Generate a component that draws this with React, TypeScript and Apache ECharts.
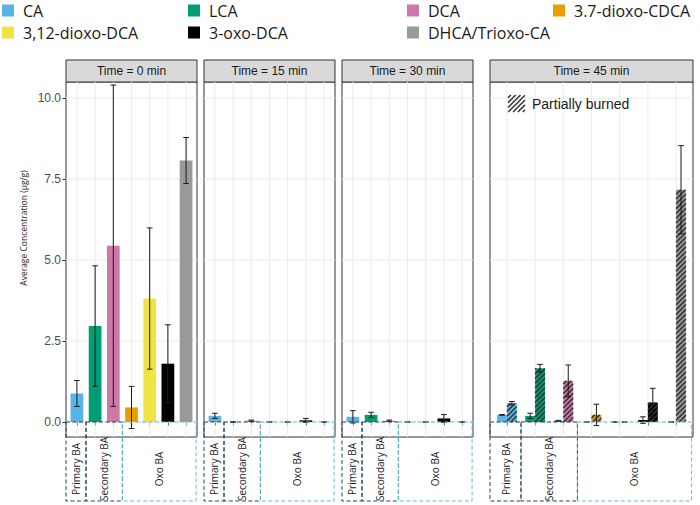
import React, { useEffect, useRef } from 'react';
import * as echarts from 'echarts';

const categories = ['CA', 'LCA', 'DCA', '3.7-dioxo-CDCA', '3,12-dioxo-DCA', '3-oxo-DCA', 'DHCA/Trioxo-CA'];
const colors = ['#56B4E9', '#009E73', '#CC79A7', '#E69F00', '#F0E442', '#000000', '#999999'];
const panelTitles = ['Time = 0 min', 'Time = 15 min', 'Time = 30 min', 'Time = 45 min'];
const yTicks = [0, 2.5, 5, 7.5, 10];
const xPositions = [1, 2, 3, 4, 5, 6, 7];

const t0Mean = [0.88, 2.96, 5.44, 0.45, 3.81, 1.8, 8.07];
const t0Sd = [0.4, 1.86, 4.96, 0.65, 2.18, 1.2, 0.71];
const t15Mean = [0.19, 0, 0.04, 0, 0, 0.05, 0];
const t15Sd = [0.08, 0, 0.02, 0, 0, 0.06, 0];
const t30Mean = [0.16, 0.22, 0.04, 0, 0, 0.11, 0];
const t30Sd = [0.19, 0.08, 0.02, 0, 0, 0.12, 0];
const t45Mean = [0.22, 0.19, 0.04, 0, 0, 0.06, 0];
const t45Sd = [0.01, 0.08, 0.01, 0, 0, 0.1, 0];
const t45BurnedMean = [0.58, 1.66, 1.27, 0.22, 0, 0.6, 7.17];
const t45BurnedSd = [0.05, 0.12, 0.49, 0.33, 0, 0.44, 1.36];

const groupLabels = ['Primary BA', 'Secondary BA', 'Oxo BA'];
const groupFrom = [0.4, 1.5, 3.5];
const groupTo = [1.5, 3.5, 7.55];
const groupColors = ['#22465b', '#22465b', '#5cc0d8'];

const legendCols = [
  { names: ['CA', '3,12-dioxo-DCA'], left: 2 },
  { names: ['LCA', '3-oxo-DCA'], left: 188 },
  { names: ['DCA', 'DHCA/Trioxo-CA'], left: 407 },
  { names: ['3.7-dioxo-CDCA'], left: 553 },
];

const panelLeft = [66, 204, 342, 490];
const panelWidth = [131, 131, 131, 203];
const panelTop = 82;
const panelHeight = 355;
const yMin = -0.463;
const yMax = 10.494;

const panels = [
  [{ mean: t0Mean, sd: t0Sd, offset: 0, width: 0.7, hatched: 0 }],
  [{ mean: t15Mean, sd: t15Sd, offset: 0, width: 0.7, hatched: 0 }],
  [{ mean: t30Mean, sd: t30Sd, offset: 0, width: 0.7, hatched: 0 }],
  [
    { mean: t45Mean, sd: t45Sd, offset: -0.175, width: 0.35, hatched: 0 },
    { mean: t45BurnedMean, sd: t45BurnedSd, offset: 0.175, width: 0.35, hatched: 1 },
  ],
];

const STRIPE = '#333333';

function stripeSegments(x: number, y: number, w: number, h: number, spacing: number, angleDeg: number) {
  const a = (angleDeg * Math.PI) / 180;
  const dx = Math.cos(a);
  const dy = -Math.sin(a);
  const nx = Math.sin(a);
  const ny = Math.cos(a);
  const corners = [[x, y], [x + w, y], [x, y + h], [x + w, y + h]];
  const ks = corners.map(([px, py]) => px * nx + py * ny);
  const kmin = Math.min(...ks);
  const kmax = Math.max(...ks);
  const segs: number[][] = [];
  for (let k = Math.ceil(kmin / spacing) * spacing; k <= kmax; k += spacing) {
    const p0x = nx * k;
    const p0y = ny * k;
    let t0 = -Infinity;
    let t1 = Infinity;
    let ta = (x - p0x) / dx;
    let tb = (x + w - p0x) / dx;
    if (ta > tb) [ta, tb] = [tb, ta];
    t0 = Math.max(t0, ta);
    t1 = Math.min(t1, tb);
    ta = (y - p0y) / dy;
    tb = (y + h - p0y) / dy;
    if (ta > tb) [ta, tb] = [tb, ta];
    t0 = Math.max(t0, ta);
    t1 = Math.min(t1, tb);
    if (t1 > t0) segs.push([p0x + t0 * dx, p0y + t0 * dy, p0x + t1 * dx, p0y + t1 * dy]);
  }
  return segs;
}

function renderBar(params: any, api: any) {
  const x = api.value(0);
  const m = api.value(1);
  const sd = api.value(2);
  const off = api.value(3);
  const w = api.value(4);
  const hatched = api.value(5);
  const cx = x + off;
  const pTop = api.coord([cx, m]);
  const pBase = api.coord([cx, 0]);
  const bw = api.size([w, 0])[0];
  const rx = pTop[0] - bw / 2;
  const ry = Math.min(pTop[1], pBase[1]);
  const rh = Math.abs(pBase[1] - pTop[1]);
  const color = api.visual('color');
  const children: any[] = [];
  if (rh > 0.01) {
    children.push({ type: 'rect', shape: { x: rx, y: ry, width: bw, height: rh }, style: { fill: color } });
    if (hatched) {
      stripeSegments(rx, ry, bw, rh, 3.4, 45).forEach((s) => {
        children.push({
          type: 'line',
          shape: { x1: s[0], y1: s[1], x2: s[2], y2: s[3] },
          style: { stroke: STRIPE, lineWidth: 1.5 },
        });
      });
    }
  }
  const hi = api.coord([cx, m + sd])[1];
  const lo = api.coord([cx, m - sd])[1];
  const ww = 2.8;
  const ex = pTop[0];
  const es = { stroke: '#1a1a1a', lineWidth: 1 };
  children.push({ type: 'line', shape: { x1: ex, y1: hi, x2: ex, y2: lo }, style: es });
  children.push({ type: 'line', shape: { x1: ex - ww, y1: hi, x2: ex + ww, y2: hi }, style: es });
  children.push({ type: 'line', shape: { x1: ex - ww, y1: lo, x2: ex + ww, y2: lo }, style: es });
  return { type: 'group', children };
}

function renderHLine(params: any, api: any) {
  const y = api.coord([1, api.value(1)])[1];
  const cs = params.coordSys;
  return { type: 'line', shape: { x1: cs.x, y1: y, x2: cs.x + cs.width, y2: y }, style: { stroke: '#ebebeb', lineWidth: 1 } };
}

function renderVLine(params: any, api: any) {
  const x = api.coord([api.value(0), 0])[0];
  const cs = params.coordSys;
  return { type: 'line', shape: { x1: x, y1: cs.y, x2: x, y2: cs.y + cs.height }, style: { stroke: '#ebebeb', lineWidth: 1 } };
}

function renderGroup(params: any, api: any) {
  const i = api.value(2);
  const l = api.coord([api.value(0), 0]);
  const r = api.coord([api.value(1), 0]);
  const top = l[1];
  const h = 79;
  return {
    type: 'group',
    children: [
      {
        type: 'rect',
        shape: { x: l[0], y: top, width: r[0] - l[0], height: h },
        style: { fill: 'none', stroke: groupColors[i], lineWidth: 1, lineDash: [4, 2.5] },
      },
      {
        type: 'text',
        x: (l[0] + r[0]) / 2,
        y: top + 47,
        rotation: Math.PI / 2,
        style: {
          text: groupLabels[i],
          fontSize: 10,
          fontFamily: 'Open Sans',
          fill: '#1a1a1a',
          align: 'center',
          verticalAlign: 'middle',
        },
      },
    ],
  };
}

function buildOption() {
  const grid = panelLeft.map((l, i) => ({
    left: l,
    top: panelTop,
    width: panelWidth[i],
    height: panelHeight,
    show: true,
    borderColor: '#333333',
    borderWidth: 1,
    backgroundColor: '#ffffff',
    containLabel: false,
    outerBoundsMode: 'none',
  }));
  const xAxis = panelLeft.map((_, i) => ({
    type: 'value',
    gridIndex: i,
    min: 0.4,
    max: 7.6,
    axisLine: { show: false },
    splitLine: { show: false },
    axisLabel: { show: false },
    axisTick: { show: true, customValues: xPositions, length: 3.5, lineStyle: { color: '#333333' } },
  }));
  const yAxis = panelLeft.map((_, i) => ({
    type: 'value',
    gridIndex: i,
    min: yMin,
    max: yMax,
    axisLine: { show: false },
    splitLine: { show: false },
    axisTick: { show: i === 0, customValues: yTicks, length: 3.5, lineStyle: { color: '#333333' } },
    axisLabel: {
      show: i === 0,
      customValues: yTicks,
      formatter: (v: number) => v.toFixed(1),
      color: '#4d4d4d',
      fontSize: 12,
      fontFamily: 'Liberation Sans',
      margin: 5,
    },
  }));

  const series: any[] = [];
  panelLeft.forEach((_, p) => {
    series.push({
      type: 'custom',
      xAxisIndex: p,
      yAxisIndex: p,
      silent: true,
      z: 1,
      clip: false,
      data: yTicks.map((v) => [1, v]),
      renderItem: renderHLine,
    });
    series.push({
      type: 'custom',
      xAxisIndex: p,
      yAxisIndex: p,
      silent: true,
      z: 1,
      clip: false,
      data: xPositions.map((v) => [v, 0]),
      renderItem: renderVLine,
    });
    categories.forEach((name, c) => {
      series.push({
        type: 'custom',
        name,
        xAxisIndex: p,
        yAxisIndex: p,
        silent: true,
        z: 2,
        clip: false,
        itemStyle: { color: colors[c] },
        data: panels[p].map((s) => [c + 1, s.mean[c], s.sd[c], s.offset, s.width, s.hatched]),
        renderItem: renderBar,
      });
    });
    series.push({
      type: 'custom',
      xAxisIndex: p,
      yAxisIndex: p,
      silent: true,
      z: 4,
      clip: false,
      data: groupLabels.map((_, i) => [groupFrom[i], groupTo[i], i]),
      renderItem: renderGroup,
    });
  });

  const legend = legendCols.map((col) => ({
    data: col.names,
    orient: 'vertical',
    left: col.left,
    top: 2.5,
    padding: 0,
    itemGap: 6,
    itemWidth: 12,
    itemHeight: 12,
    icon: 'rect',
    selectedMode: false,
    textStyle: { fontFamily: 'Open Sans', fontSize: 16, color: '#1a1a1a', padding: [0, 0, 0, 4] },
  }));

  const graphic: any[] = [];
  panelLeft.forEach((l, i) => {
    graphic.push({
      type: 'rect',
      shape: { x: l, y: 60, width: panelWidth[i], height: 22 },
      style: { fill: '#d9d9d9', stroke: '#333333', lineWidth: 1 },
      silent: true,
    });
    graphic.push({
      type: 'text',
      x: l + panelWidth[i] / 2,
      y: 71,
      style: {
        text: panelTitles[i],
        fontSize: 12,
        fontFamily: 'Liberation Sans',
        fill: '#1a1a1a',
        align: 'center',
        verticalAlign: 'middle',
      },
      silent: true,
    });
  });
  graphic.push({
    type: 'text',
    x: 23,
    y: 228,
    rotation: Math.PI / 2,
    style: {
      text: 'Average Concentration (µg/g)',
      fontSize: 8.5,
      fontFamily: 'Open Sans',
      fill: '#1a1a1a',
      align: 'center',
      verticalAlign: 'middle',
    },
    silent: true,
  });
  const kx = 508;
  const ky = 95;
  const ks = 17;
  graphic.push({ type: 'rect', shape: { x: kx, y: ky, width: ks, height: ks }, style: { fill: '#ffffff' }, silent: true, z: 10 });
  stripeSegments(kx, ky, ks, ks, 3.4, 45).forEach((s) => {
    graphic.push({
      type: 'line',
      shape: { x1: s[0], y1: s[1], x2: s[2], y2: s[3] },
      style: { stroke: STRIPE, lineWidth: 1.5 },
      silent: true,
      z: 10,
    });
  });
  graphic.push({
    type: 'text',
    x: 532,
    y: 103.5,
    style: {
      text: 'Partially burned',
      fontSize: 14,
      fontFamily: 'Liberation Sans',
      fill: '#1a1a1a',
      align: 'left',
      verticalAlign: 'middle',
    },
    silent: true,
    z: 10,
  });

  return {
    animation: false,
    backgroundColor: '#ffffff',
    grid,
    xAxis,
    yAxis,
    legend,
    series,
    graphic,
  };
}

export default function App() {
  const ref = useRef<HTMLDivElement>(null);
  useEffect(() => {
    document.body.style.margin = '0';
    const chart = echarts.init(ref.current as HTMLDivElement, null, { renderer: 'svg' });
    chart.setOption(buildOption() as any);
    return () => chart.dispose();
  }, []);
  return <div ref={ref} style={{ width: 700, height: 505 }} />;
}
